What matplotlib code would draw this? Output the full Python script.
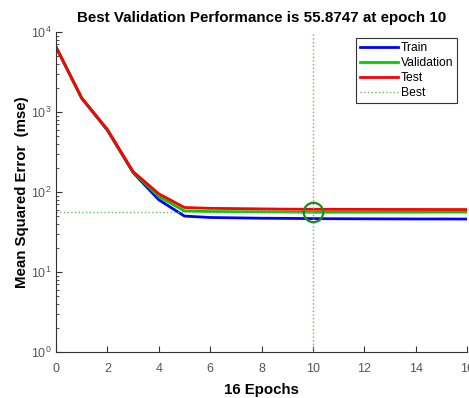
import numpy as np
import matplotlib
matplotlib.use('Agg')
import matplotlib.pyplot as plt

plt.rcParams['font.family'] = ['Liberation Sans', 'DejaVu Sans']

epochs = np.arange(0, 17)
train = [6500, 1480, 590, 175, 80, 50, 48, 47.5, 47, 46.8, 46.5, 46.3, 46.2, 46.1, 46, 46, 45.9]
validation = [6500, 1490, 600, 178, 88, 58, 57, 56.8, 56.5, 56.2, 55.8747, 55.9, 55.95, 56, 56, 56.1, 56.1]
test = [6500, 1500, 605, 180, 95, 64, 62.5, 62, 61.5, 61, 60.8, 60.7, 60.6, 60.5, 60.5, 60.4, 60.4]
best_epoch = 10
best_perf = 55.8747

fig = plt.figure(figsize=(4.69, 3.98), dpi=100)
ax = fig.add_axes([56/469, 46/398, 411/469, 320/398])

ax.semilogy(epochs, train, color='#0000ff', linewidth=2, label='Train')
ax.semilogy(epochs, validation, color='#00cc00', linewidth=2, label='Validation')
ax.semilogy(epochs, test, color='#ff0000', linewidth=2, label='Test')
ax.plot([best_epoch, best_epoch], [1, 1e4], ':', color='#66bb66', linewidth=1, label='Best')
ax.plot([0, best_epoch], [best_perf, best_perf], ':', color='#66bb66', linewidth=1)
ax.plot(best_epoch, best_perf, 'o', markersize=14, markerfacecolor='none',
        markeredgecolor='#1a8c1a', markeredgewidth=1.6)

ax.set_xlim(0, 16)
ax.set_ylim(1, 1e4)
ax.set_xticks(range(0, 17, 2))
ax.set_title('Best Validation Performance is 55.8747 at epoch 10',
             fontsize=10.9, fontweight='bold', pad=7)
ax.set_xlabel('16 Epochs', fontsize=10.8, fontweight='bold', labelpad=6)
ax.set_ylabel('Mean Squared Error  (mse)', fontsize=10.8, fontweight='bold', labelpad=1)

for s in ['top', 'right']:
    ax.spines[s].set_visible(False)
for s in ['left', 'bottom']:
    ax.spines[s].set_color('#333333')
ax.tick_params(which='both', direction='in', labelsize=9, labelcolor='#555555', color='#333333')
ax.tick_params(axis='x', pad=8)
ax.tick_params(which='major', length=4)
ax.tick_params(which='minor', length=2)

leg = ax.legend(loc='upper right', bbox_to_anchor=(0.975, 0.98), borderaxespad=0, fontsize=8.7,
                fancybox=False, framealpha=1, edgecolor='#333333',
                handlelength=3.2, handletextpad=0.2, borderpad=0.3, labelspacing=0.25)
leg.get_frame().set_linewidth(0.8)

fig.savefig('out.png', dpi=100)
